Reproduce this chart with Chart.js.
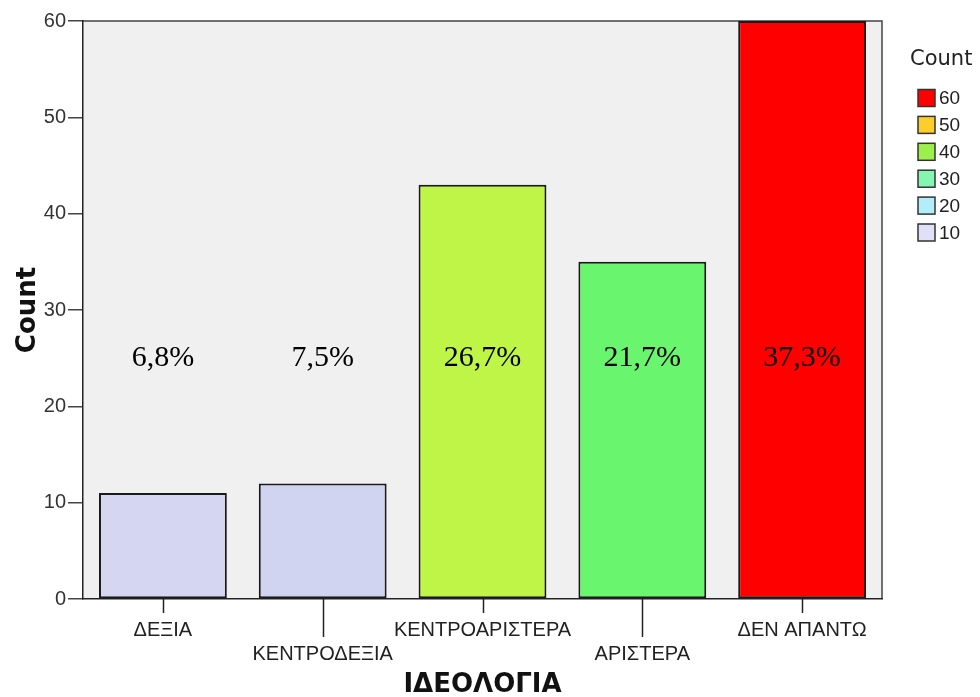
<!DOCTYPE html>
<html>
<head>
<meta charset="utf-8">
<script src="https://cdn.jsdelivr.net/npm/chart.js@4.4.1/dist/chart.umd.min.js"></script>
<style>
html,body{margin:0;padding:0;background:#fff;}
#wrap{width:980px;height:697px;}
</style>
</head>
<body>
<div id="wrap"><canvas id="c" width="980" height="697"></canvas></div>
<script>
const categories = ['ΔΕΞΙΑ', 'ΚΕΝΤΡΟΔΕΞΙΑ', 'ΚΕΝΤΡΟΑΡΙΣΤΕΡΑ', 'ΑΡΙΣΤΕΡΑ', 'ΔΕΝ ΑΠΑΝΤΩ'];
const counts = [11, 12, 43, 35, 60];
const barColors = ['#d5d7f2', '#d0d4f0', '#bff546', '#6af56e', '#ff0000'];
const yTicks = [0, 10, 20, 30, 40, 50, 60];
const legendValues = [60, 50, 40, 30, 20, 10];
const legendColors = ['#ff0000', '#fdcd2c', '#9bf04c', '#84f5b2', '#b2eefa', '#e0e0f8'];
const total = counts.reduce((a, b) => a + b, 0);
const pctLabels = counts.map(v => (v / total * 100).toFixed(1).replace('.', ',') + '%');
const pctLabelValue = 25;

const SANS = '"Liberation Sans", Arial, sans-serif';

const bgPlugin = {
  id: 'bg',
  beforeDraw(chart) {
    const {ctx, chartArea: a} = chart;
    ctx.save();
    ctx.fillStyle = '#f0f0f0';
    ctx.fillRect(a.left, a.top, a.right - a.left, a.bottom - a.top);
    ctx.strokeStyle = '#444';
    ctx.lineWidth = 1.5;
    ctx.beginPath();
    ctx.moveTo(a.left, a.top);
    ctx.lineTo(a.right, a.top);
    ctx.lineTo(a.right, a.bottom);
    ctx.stroke();
    ctx.restore();
  },
  afterDraw(chart) {
    const {ctx, chartArea: a} = chart;
    const xs = chart.scales.x, ys = chart.scales.y;
    ctx.save();
    ctx.strokeStyle = '#222';
    ctx.lineWidth = 1.5;
    categories.forEach((c, i) => {
      const x = Math.round(xs.getPixelForValue(i)) + 0.5;
      ctx.beginPath();
      ctx.moveTo(x, a.bottom);
      ctx.lineTo(x, a.bottom + (i % 2 ? 38 : 14));
      ctx.stroke();
    });
    ctx.fillStyle = '#000';
    ctx.font = '30px "Liberation Serif", "Times New Roman", serif';
    ctx.textAlign = 'center';
    ctx.textBaseline = 'middle';
    const y = ys.getPixelForValue(pctLabelValue);
    pctLabels.forEach((t, i) => {
      ctx.fillText(t, xs.getPixelForValue(i), y);
    });
    ctx.textAlign = 'left';
    ctx.fillStyle = '#222';
    ctx.font = '21px "DejaVu Sans", sans-serif';
    ctx.fillText('Count', 910, 60);
    ctx.font = '19px ' + SANS;
    legendValues.forEach((v, i) => {
      const cy = 98 + i * 26.9;
      ctx.fillStyle = legendColors[i];
      ctx.fillRect(918, cy - 8.5, 17, 17);
      ctx.strokeStyle = '#333';
      ctx.lineWidth = 1.5;
      ctx.strokeRect(918, cy - 8.5, 17, 17);
      ctx.fillStyle = '#222';
      ctx.fillText(String(v), 939, cy + 1);
    });
    ctx.restore();
  }
};

new Chart(document.getElementById('c'), {
  type: 'bar',
  data: {
    labels: categories,
    datasets: [{
      data: counts,
      backgroundColor: barColors,
      borderColor: '#1a1a1a',
      borderWidth: 2,
      borderSkipped: false,
      barPercentage: 0.8,
      categoryPercentage: 1.0
    }]
  },
  options: {
    responsive: false,
    devicePixelRatio: 1,
    animation: false,
    layout: { padding: { left: 0, right: 98, top: 21, bottom: 0 } },
    plugins: { legend: { display: false }, tooltip: { enabled: false } },
    scales: {
      x: {
        grid: { display: false },
        border: { color: '#222', width: 1.5 },
        ticks: {
          color: '#222',
          font: { family: SANS, size: 20, lineHeight: 1.2 },
          padding: 11,
          maxRotation: 0,
          autoSkip: false,
          callback: (v, i) => (i % 2 ? ['', categories[i]] : categories[i])
        },
        title: {
          display: true,
          text: 'ΙΔΕΟΛΟΓΙΑ',
          color: '#111',
          font: { family: '"DejaVu Sans", sans-serif', size: 26, weight: 'bold', lineHeight: 0.9 },
          padding: { top: 0, bottom: 0 }
        },
        afterFit: s => { s.height = 98; }
      },
      y: {
        min: 0,
        max: 60,
        afterBuildTicks: s => { s.ticks = yTicks.map(v => ({ value: v })); },
        grid: { drawOnChartArea: false, tickLength: 15, color: '#444', lineWidth: 1.5 },
        border: { color: '#222', width: 1.5 },
        ticks: {
          color: '#333',
          padding: 2,
          font: { family: SANS, size: 20 }
        },
        title: {
          display: true,
          text: 'Count',
          color: '#111',
          font: { family: '"DejaVu Sans", sans-serif', size: 26, weight: 'bold', lineHeight: 1.2 },
          padding: { top: 13, bottom: 0 }
        },
        afterFit: s => { s.width = 83; }
      }
    }
  },
  plugins: [bgPlugin]
});
</script>
</body>
</html>
